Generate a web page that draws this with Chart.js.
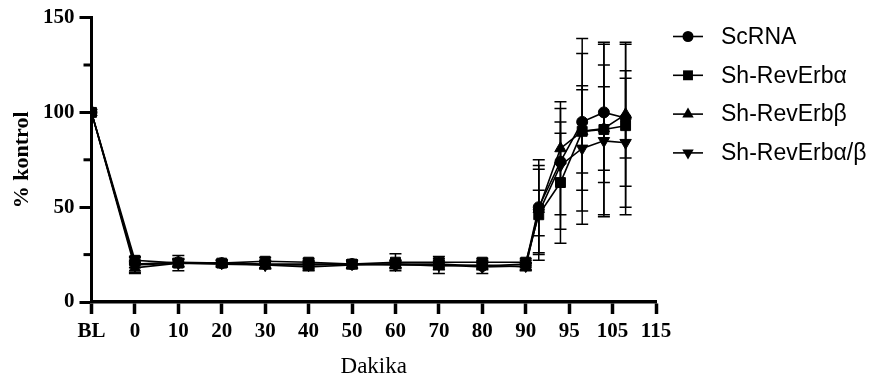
<!DOCTYPE html>
<html><head><meta charset="utf-8">
<script src="https://cdn.jsdelivr.net/npm/chart.js@4/dist/chart.umd.min.js"></script>
<style>html,body{margin:0;padding:0;background:#fff}</style>
</head><body>
<canvas id="c" width="875" height="381"></canvas>
<script>
// ---- data ----
const tickLabels = ['BL','0','10','20','30','40','50','60','70','80','90','95','105','115'];
const sampleTimes = ['BL',0,10,20,30,40,50,60,70,80,90,91.5,94,98,103,108];
const seriesNames = ['ScRNA','Sh-RevErbα','Sh-RevErbβ','Sh-RevErbα/β'];
const scRNA      = [100,20,21,20.5,20,20,20,20,20,19,20,50,74,95,100,97];
const scRNAErr   = [0,2,2,1.5,2,2,2,2,2,2,2,25,28,36,37,21];
const shAlpha    = [100,22,20.5,20.5,21.5,21,20,21,21,21,21,46,63,90,91,93];
const shAlphaErr = [0,2,2,1.5,2,2,2,4.5,2,2,2,24,32,49,45,43];
const shBeta     = [100,18,20.5,20,19.5,18.5,19.5,20,19,19.5,18.5,49,81,90,91.5,99];
const shBetaErr  = [0,3,2,1.5,2,2,2,2,2,2,2,23,8,22,22,38];
const shAB       = [100,19.5,20.5,20.5,19.5,19.5,20,19.5,19.5,18.5,19,47,72,81,85,84];
const shABErr    = [0,4,4,1.5,2,2,2,2,4.5,3.5,2,12,33.6,33,40,38];
const yTicks = [0,50,100,150];

// segmented time axis: BL, 0..90 by 10, 90-95, then 95..115 by 10
function toAxis(t){
  if (t === 'BL') return 0;
  if (t <= 90) return 1 + t/10;
  if (t <= 95) return 10 + (t-90)/5;
  return 11 + (t-95)/10;
}
function pts(vals){ return vals.map((v,i)=>({x: toAxis(sampleTimes[i]), y: v})); }

const styles = [
  {pointStyle:'circle', r:5.5, rot:0},
  {pointStyle:'rect', r:7, rot:0},
  {pointStyle:'triangle', r:6.6, rot:0},
  {pointStyle:'triangle', r:6.6, rot:180}
];
const allVals = [scRNA, shAlpha, shBeta, shAB];
const allErrs = [scRNAErr, shAlphaErr, shBetaErr, shABErr];

const datasets = seriesNames.map((n,i)=>({
  label: n,
  data: pts(allVals[i]),
  errors: allErrs[i],
  borderColor:'#000', backgroundColor:'#000', borderWidth:1.6,
  pointStyle: styles[i].pointStyle, pointRadius: styles[i].r, pointRotation: styles[i].rot,
  pointBorderWidth:1, pointBackgroundColor:'#000', pointBorderColor:'#000',
  tension:0, fill:false
}));

const errorBars = {
  id:'errorBars',
  beforeDatasetsDraw(chart){
    const {ctx, scales:{x,y}} = chart;
    ctx.save(); ctx.strokeStyle='#000'; ctx.lineWidth=1.5;
    chart.data.datasets.forEach(ds=>{
      ds.data.forEach((p,j)=>{
        const e = ds.errors[j]; if(!e) return;
        const px = x.getPixelForValue(p.x);
        const t = y.getPixelForValue(p.y+e), b = y.getPixelForValue(p.y-e);
        ctx.beginPath();
        ctx.moveTo(px,t); ctx.lineTo(px,b);
        ctx.moveTo(px-6,t); ctx.lineTo(px+6,t);
        ctx.moveTo(px-6,b); ctx.lineTo(px+6,b);
        ctx.stroke();
      });
    });
    ctx.restore();
  }
};

function drawMarker(ctx, style, r, rot, cx, cy){
  ctx.beginPath();
  if (style==='circle'){ ctx.arc(cx,cy,r,0,Math.PI*2); }
  else if (style==='rect'){ const s=Math.SQRT1_2*r; ctx.rect(cx-s,cy-s,2*s,2*s); }
  else {
    let rad = rot*Math.PI/180;
    for (let k=0;k<3;k++){ const px=cx+Math.sin(rad)*r, py=cy-Math.cos(rad)*r; k?ctx.lineTo(px,py):ctx.moveTo(px,py); rad+=2*Math.PI/3; }
    ctx.closePath();
  }
  ctx.fill();
}

const extras = {
  id:'extras',
  afterDraw(chart){
    const {ctx, scales:{y}, chartArea} = chart;
    ctx.save();
    // minor y ticks
    ctx.strokeStyle='#000'; ctx.lineWidth=3;
    [25,75,125].forEach(v=>{
      const py = y.getPixelForValue(v);
      ctx.beginPath(); ctx.moveTo(chartArea.left-8, py); ctx.lineTo(chartArea.left, py); ctx.stroke();
    });
    // legend
    ctx.font = '23px "Liberation Sans", Arial, sans-serif';
    ctx.textBaseline='middle'; ctx.textAlign='left'; ctx.fillStyle='#000';
    seriesNames.forEach((n,i)=>{
      const ry = 36.5 + i*38.8;
      ctx.lineWidth=1.6;
      ctx.beginPath(); ctx.moveTo(673, ry); ctx.lineTo(703, ry); ctx.stroke();
      drawMarker(ctx, styles[i].pointStyle, styles[i].r, styles[i].rot, 688, ry);
      ctx.fillText(n, 721, ry+1);
    });
    ctx.restore();
  }
};

new Chart(document.getElementById('c'), {
  type:'line',
  data:{datasets},
  plugins:[errorBars, extras],
  options:{
    responsive:false, animation:false, devicePixelRatio:1,
    layout:{padding:{left:0,right:219,top:15,bottom:0}},
    plugins:{legend:{display:false}, tooltip:{enabled:false}},
    scales:{
      x:{
        type:'linear', min:0, max:13,
        afterFit(s){ s.height = 79; },
        afterBuildTicks(s){ s.ticks = tickLabels.map((_,i)=>({value:i})); },
        ticks:{ autoSkip:false, maxRotation:0, padding:5, color:'#000',
          font:{family:'"Liberation Serif", "Times New Roman", serif', size:21, weight:'bold'},
          callback:(v)=>tickLabels[v] },
        grid:{display:true, drawOnChartArea:false, drawTicks:true, tickLength:12, tickWidth:3.5, tickColor:'#000'},
        border:{display:true, color:'#000', width:3.5},
        title:{display:true, text:'Dakika', color:'#000', padding:{top:0,bottom:0},
          font:{family:'"Liberation Serif", "Times New Roman", serif', size:23, weight:'normal'}}
      },
      y:{
        type:'linear', min:0, max:150,
        afterFit(s){ s.width = 91.5; },
        afterBuildTicks(s){ s.ticks = yTicks.map(v=>({value:v})); },
        ticks:{ padding:5, color:'#000',
          font:{family:'"Liberation Serif", "Times New Roman", serif', size:21, weight:'bold'} },
        grid:{display:true, drawOnChartArea:false, drawTicks:true, tickLength:12, tickWidth:3, tickColor:'#000'},
        border:{display:true, color:'#000', width:3},
        title:{display:true, text:'% kontrol', color:'#000', padding:{top:9,bottom:0},
          font:{family:'"Liberation Serif", "Times New Roman", serif', size:22, weight:'bold'}}
      }
    }
  }
});
</script>
</body></html>
